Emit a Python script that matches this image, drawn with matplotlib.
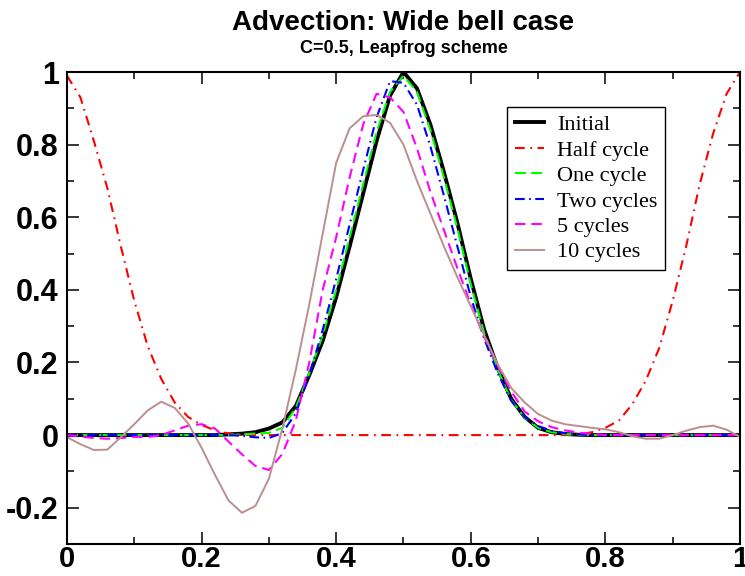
import numpy as np
import matplotlib
matplotlib.use("Agg")
import matplotlib.pyplot as plt
from matplotlib.ticker import MultipleLocator, FuncFormatter

plt.rcParams['axes.unicode_minus'] = False
plt.rcParams['lines.scale_dashes'] = False

# sample positions along the domain (step 0.02)
x = np.round(np.arange(51) * 0.02, 2)

initial = [0, 0, 0, 0, 0, 0, 0, 0, 0, 0, 0, 0,
           0.002, 0.004, 0.008, 0.018, 0.035, 0.08, 0.165, 0.26, 0.38, 0.52,
           0.665, 0.81, 0.935, 1.0, 0.955, 0.855, 0.725, 0.585, 0.43, 0.29,
           0.185, 0.10, 0.05, 0.02, 0.008, 0.003, 0.001,
           0, 0, 0, 0, 0, 0, 0, 0, 0, 0, 0, 0]

half_cycle = [0.99, 0.93, 0.81, 0.68, 0.52, 0.37, 0.245, 0.155, 0.09, 0.05,
              0.028, 0.013, 0.004, 0.001,
              0, 0, 0, 0, 0, 0, 0, 0, 0, 0, 0, 0,
              0, 0, 0, 0, 0, 0, 0, 0, 0, 0, 0, 0,
              0.002, 0.008, 0.02, 0.04, 0.085, 0.15, 0.24, 0.37, 0.52, 0.69,
              0.83, 0.94, 1.0]

one_cycle = [0, 0, 0, 0, 0, 0, 0, 0, 0, 0, 0, 0, 0,
             0.002, 0.004, 0.006, 0.02, 0.075, 0.17, 0.275, 0.40, 0.545,
             0.69, 0.835, 0.945, 0.99, 0.945, 0.84, 0.71, 0.57, 0.415, 0.28,
             0.18, 0.097, 0.048, 0.02, 0.008, 0.003, 0.001,
             0, 0, 0, 0, 0, 0, 0, 0, 0, 0, 0, 0]

two_cycles = [0, 0, 0, 0, 0, 0, 0, 0, 0, 0, 0, 0,
              0.0, -0.002, -0.006, -0.008, 0.006, 0.06, 0.165, 0.29, 0.43,
              0.58, 0.73, 0.875, 0.975, 0.97, 0.91, 0.795, 0.66, 0.52, 0.38,
              0.265, 0.17, 0.095, 0.05, 0.025, 0.012, 0.005, 0.002, 0.0,
              0, 0, 0, 0, 0, 0, 0, 0, 0, 0, 0]

five_cycles = [0.0, -0.004, -0.008, -0.010, -0.008, -0.005, -0.005, 0.0,
               0.013, 0.026, 0.030, 0.018, -0.018, -0.053, -0.085, -0.096,
               -0.052, 0.04, 0.2, 0.40, 0.545, 0.71, 0.855, 0.94, 0.93, 0.89,
               0.79, 0.67, 0.565, 0.46, 0.36, 0.27, 0.19, 0.12, 0.065, 0.038,
               0.022, 0.013, 0.007, 0.003,
               0, 0, 0, 0, 0, 0, 0, 0, 0, 0, 0]

ten_cycles = [-0.006, -0.025, -0.041, -0.040, -0.006, 0.03, 0.068, 0.092,
              0.075, 0.032, -0.035, -0.11, -0.18, -0.214, -0.195, -0.12,
              0.018, 0.18, 0.36, 0.555, 0.75, 0.845, 0.878, 0.882, 0.86, 0.80,
              0.70, 0.61, 0.52, 0.435, 0.355, 0.275, 0.195, 0.13, 0.09, 0.058,
              0.04, 0.03, 0.025, 0.02, 0.016, 0.008, -0.003, -0.01, -0.01, 0.0,
              0.012, 0.022, 0.026, 0.015, -0.005]

fig = plt.figure(figsize=(7.45, 5.76), dpi=100)
ax = fig.add_axes([0.0899, 0.0555, 0.9034, 0.8195])

ax.plot(x, initial, color='black', lw=2.8, label='Initial')
ax.plot(x, half_cycle, color='red', lw=1.5, dashes=(7, 4, 1.2, 4), label='Half cycle')
ax.plot(x, one_cycle, color='#00ff00', lw=1.5, dashes=(8, 3.6), label='One cycle')
ax.plot(x, two_cycles, color='blue', lw=1.5, dashes=(7, 3.2, 1.2, 3.2), label='Two cycles')
ax.plot(x, five_cycles, color='magenta', lw=1.5, dashes=(7.5, 4.3), label='5 cycles')
ax.plot(x, ten_cycles, color='#bc8f8f', lw=1.4, label='10 cycles')

ax.set_xlim(0, 1)
ax.set_ylim(-0.3, 1.0)
ax.xaxis.set_major_locator(MultipleLocator(0.2))
ax.xaxis.set_minor_locator(MultipleLocator(0.1))
ax.yaxis.set_major_locator(MultipleLocator(0.2))
ax.yaxis.set_minor_locator(MultipleLocator(0.1))
fmt = FuncFormatter(lambda v, p: '%g' % round(v, 2))
ax.xaxis.set_major_formatter(fmt)
ax.yaxis.set_major_formatter(fmt)
ax.tick_params(which='both', direction='in', top=True, right=True, width=1.1)
ax.tick_params(which='major', length=8.6)
ax.tick_params(which='minor', length=5)
ax.tick_params(axis='x', which='major', pad=1)
ax.tick_params(axis='y', which='major', pad=6)
for lab in ax.get_yticklabels():
    lab.set_fontfamily('Liberation Sans')
    lab.set_fontweight('bold')
    lab.set_fontsize(22)
for lab in ax.get_xticklabels():
    lab.set_fontfamily('Liberation Sans')
    lab.set_fontweight('bold')
    lab.set_fontsize(21)
for sp in ax.spines.values():
    sp.set_linewidth(1.5)

fig.text(0.5416, 0.960, 'Advection: Wide bell case', ha='center', va='center',
         family='Liberation Sans', weight='bold', fontsize=20)
fig.text(0.5416, 0.915, 'C=0.5, Leapfrog scheme', ha='center', va='center',
         family='Liberation Sans', weight='bold', fontsize=13)

leg = ax.legend(loc='upper left', bbox_to_anchor=(0.654, 0.926),
                prop={'family': 'Liberation Serif', 'size': 16},
                fancybox=False, framealpha=1, edgecolor='black',
                borderpad=0.35, labelspacing=0.22, handlelength=1.3,
                handletextpad=0.6, borderaxespad=0)
leg.get_frame().set_linewidth(1.0)

fig.savefig('out.png', dpi=100)
